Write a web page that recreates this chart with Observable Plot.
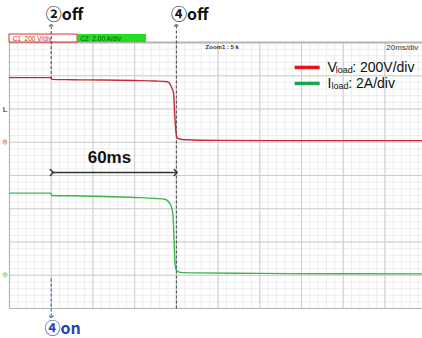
<!DOCTYPE html>
<html><head><meta charset="utf-8">
<script src="https://cdn.jsdelivr.net/npm/d3@7"></script>
<script src="https://cdn.jsdelivr.net/npm/@observablehq/plot@0.6"></script>
<style>html,body{margin:0;padding:0;background:#fff}svg{overflow:visible}</style>
</head><body><div id="chart"></div>
<script>
// Scope settings
const timePerDiv = 20;      // ms/div
const voltsPerDiv = 200;    // V/div
const ampsPerDiv = 2;       // A/div
const vGroundDiv = 5;       // channel 1 ground marker (divisions from bottom)
const iGroundDiv = 1;       // channel 2 ground marker

// Vload trace (ms, V)
const vTime = [0, 19.8, 20.3, 30, 45, 60, 70, 74.8, 76.3, 77.7, 78.7, 79.1, 79.6, 80.1, 81.1, 84.4, 100, 130, 160, 198];
const vLoad = [389, 389, 378, 376, 374, 371, 368, 365, 360, 330, 292, 190, 90, 35, 21, 15, 11, 10, 10, 10];
// Iload trace (ms, A)
const iTime = [0, 19.8, 20.3, 30, 45, 60, 70, 74.8, 76.8, 77.7, 78.4, 78.9, 79.4, 80.1, 82, 90, 120, 160, 198];
const iLoad = [4.94, 4.94, 4.80, 4.78, 4.74, 4.68, 4.62, 4.56, 4.32, 4.08, 3.59, 2.09, 0.59, 0.29, 0.17, 0.14, 0.11, 0.09, 0.08];

// Event markers
const offEvents = [{t: 20, label: "②off"}, {t: 80, label: "④off"}];
const onEvent = {t: 20, label: "④on"};
const spanLabel = "60ms";
const legendItems = [
  {name: "V", sub: "load", rest: ": 200V/div", color: "#e8141c"},
  {name: "I", sub: "load", rest: ": 2A/div", color: "#12a84b"}
];
const headerCh1 = "C1  200 V/div";
const headerCh2 = "C2  2.00 A/div";
const headerZoom = "Zoom1 : 5 k";
const headerTime = "20ms/div";

const xMax = 198, nDivY = 8;
const minorX = d3.range(0, xMax, timePerDiv / 5);
const majorX = d3.range(0, xMax, timePerDiv);
const minorY = d3.range(0, nDivY, 0.2);
const majorY = d3.range(0, nDivY + 1, 1);

const vData = vTime.map((t, i) => ({t, d: vLoad[i] / voltsPerDiv + vGroundDiv}));
const iData = iTime.map((t, i) => ({t, d: iLoad[i] / ampsPerDiv + iGroundDiv}));

const font = "Arial, 'Liberation Sans', 'Noto Sans CJK KR', sans-serif";
const cjk = "'Noto Sans CJK KR', Arial, sans-serif";

const chart = Plot.plot({
  width: 422, height: 338,
  marginLeft: 9, marginRight: 0, marginTop: 42, marginBottom: 30,
  x: {domain: [0, xMax], axis: null},
  y: {domain: [0, nDivY], axis: null},
  style: {background: "#fff", overflow: "visible"},
  marks: [
    Plot.ruleX(minorX, {stroke: "#ededed", strokeWidth: 1}),
    Plot.ruleY(minorY, {stroke: "#ededed", strokeWidth: 1}),
    Plot.ruleX(majorX, {stroke: "#cdcdcd", strokeWidth: 1}),
    Plot.ruleY(majorY, {stroke: "#cdcdcd", strokeWidth: 1}),
    Plot.ruleY([nDivY], {stroke: "#b4b4b4", strokeWidth: 2}),
    Plot.ruleX([0], {stroke: "#b4b4b4", strokeWidth: 1.2}),
    Plot.ruleY([0], {stroke: "#b4b4b4", strokeWidth: 1.2}),
    // header boxes
    Plot.rect([0], {x1: 0, x2: 32.6, y1: 8.0, y2: 8.24, fill: "#fff", stroke: "#e03030", strokeWidth: 1}),
    Plot.rect([0], {x1: 32.6, x2: 65.7, y1: 8.0, y2: 8.24, fill: "#22dd22"}),
    Plot.text([headerCh1], {x: 1.5, y: 8.12, text: d => d, textAnchor: "start", fontSize: 6.5, fill: "#e02020", fontFamily: font}),
    Plot.text([headerCh2], {x: 34, y: 8.12, text: d => d, textAnchor: "start", fontSize: 6.5, fill: "#0a5a0a", fontFamily: font}),
    Plot.text([headerZoom], {x: 94, y: 7.85, text: d => d, textAnchor: "start", fontSize: 6, fontWeight: "bold", fill: "#333", fontFamily: font}),
    Plot.text([headerTime], {x: 196, y: 7.85, text: d => d, textAnchor: "end", fontSize: 8, fill: "#333", fontFamily: font}),
    // channel markers
    Plot.text(["L"], {x: -2.1, y: 5.98, text: d => d, fontSize: 8, fontWeight: "bold", fill: "#d03040", fontFamily: font}),
    Plot.text(["⊕"], {x: -2.1, y: vGroundDiv, text: d => d, fontSize: 6, fill: "#d03040", fontFamily: font}),
    Plot.text(["⊕"], {x: -2.1, y: iGroundDiv, text: d => d, fontSize: 6, fill: "#40b040", fontFamily: font}),
    // dashed event lines
    Plot.link([0], {x1: 80, x2: 80, y1: 0, y2: 8.52, stroke: "#444", strokeWidth: 1, strokeDasharray: "3,2", markerEnd: "arrow"}),
    Plot.link([0], {x1: 20, x2: 20, y1: 6.9, y2: 8.52, stroke: "#444", strokeWidth: 1, strokeDasharray: "3,2", markerEnd: "arrow"}),
    Plot.link([0], {x1: 20, x2: 20, y1: 0.9, y2: -0.25, stroke: "#2c4fd0", strokeWidth: 1, strokeDasharray: "3,2", markerEnd: "arrow"}),
    // traces
    Plot.line(vData, {x: "t", y: "d", stroke: "#c42a3a", strokeWidth: 1.4, curve: "monotone-x"}),
    Plot.line(iData, {x: "t", y: "d", stroke: "#3cb64a", strokeWidth: 1.4, curve: "monotone-x"}),
    // 60ms span
    Plot.link([0], {x1: 20.3, x2: 79.7, y1: 4.09, y2: 4.09, stroke: "#333", strokeWidth: 1.5, markerStart: "arrow", markerEnd: "arrow"}),
    Plot.text([spanLabel], {x: 47.9, y: 4.54, text: d => d, fontSize: 17, fontWeight: "bold", fill: "#111", fontFamily: font}),
    // event labels
    Plot.text(offEvents, {x: d => d.t - 2.6, y: 8.84, text: "label", textAnchor: "start", fontSize: 16, fontWeight: "bold", fill: "#111", fontFamily: cjk}),
    Plot.text([onEvent], {x: d => d.t - 3.2, y: -0.6, text: "label", textAnchor: "start", fontSize: 16, fontWeight: "bold", fill: "#1f3fc4", fontFamily: cjk}),
    // legend
    Plot.link(legendItems, {x1: 136.7, x2: 148.7, y1: (d, i) => 7.25 - i * 0.48, y2: (d, i) => 7.25 - i * 0.48, stroke: "color", strokeWidth: 3.5}),
    Plot.text(legendItems, {x: 152.5, y: (d, i) => 7.25 - i * 0.48, text: "name", textAnchor: "start", fontSize: 14, fill: "#111", fontFamily: font}),
    Plot.text(legendItems, {x: (d, i) => i === 0 ? 156.4 : 154.4, y: (d, i) => 7.25 - i * 0.48, dy: 3, text: "sub", textAnchor: "start", fontSize: 9, fill: "#111", fontFamily: font}),
    Plot.text(legendItems, {x: (d, i) => i === 0 ? 164.3 : 162.4, y: (d, i) => 7.25 - i * 0.48, text: "rest", textAnchor: "start", fontSize: 14, fill: "#111", fontFamily: font})
  ]
});
document.getElementById("chart").appendChild(chart);
</script>
</body></html>
